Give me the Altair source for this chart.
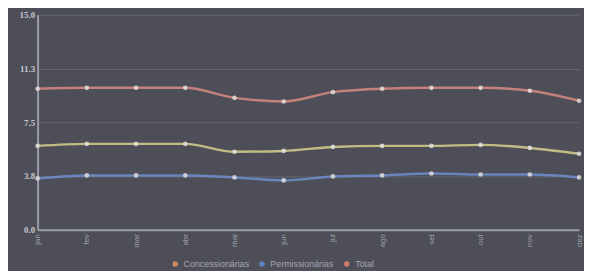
import altair as alt
import pandas as pd

meses = ["jan", "fev", "mar", "abr", "mai", "jun", "jul", "ago", "set", "out", "nov", "dez"]
concessionarias = [5.85, 5.99, 5.99, 5.99, 5.44, 5.50, 5.78, 5.85, 5.85, 5.92, 5.71, 5.30]
permissionarias = [3.58, 3.79, 3.79, 3.79, 3.65, 3.44, 3.72, 3.79, 3.92, 3.85, 3.85, 3.65]
total = [9.84, 9.90, 9.90, 9.90, 9.20, 8.95, 9.60, 9.84, 9.90, 9.90, 9.70, 9.00]

series = {"Concessionárias": concessionarias, "Permissionárias": permissionarias, "Total": total}
rows = []
for name, vals in series.items():
    for m, v in zip(meses, vals):
        rows.append({"mes": m, "serie": name, "valor": v})
df = pd.DataFrame(rows)

names = list(series.keys())
colors = ["#d6cf8c", "#6f8fcc", "#d98a80"]
legend_colors = ["#d08a60", "#5a86c0", "#d07a68"]

x = alt.X("mes:N", sort=meses, title=None,
          scale=alt.Scale(type="point", padding=0),
          axis=alt.Axis(labelAngle=-90, labelColor="#9fa0aa", labelFontSize=8,
                        domainColor="#9a9ca8", domainWidth=2, ticks=False,
                        labelPadding=4, grid=False))
y = alt.Y("valor:Q", title=None,
          scale=alt.Scale(domain=[0, 15], nice=False),
          axis=alt.Axis(values=[0, 3.75, 7.5, 11.25, 15], format=".1f",
                        labelColor="#c8c8d2", labelFontSize=9, labelFontWeight="bold",
                        labelFont="Liberation Serif",
                        domainColor="#9a9ca8", domainWidth=2, ticks=False,
                        gridColor="#656775", gridWidth=1, labelPadding=3))

lines = alt.Chart(df).mark_line(interpolate="monotone", strokeWidth=2.5, opacity=0.85).encode(
    x=x, y=y,
    stroke=alt.Stroke("serie:N", sort=names, scale=alt.Scale(domain=names, range=colors), legend=None))
points = alt.Chart(df).mark_circle(size=22, color="#e6e2e2", opacity=0.8).encode(
    x=x, y=y, detail="serie:N")
legend_layer = alt.Chart(df).mark_circle(size=22, opacity=0).encode(
    x=x, y=y,
    fill=alt.Fill("serie:N", sort=names, scale=alt.Scale(domain=names, range=legend_colors),
                  legend=alt.Legend(orient="none", legendX=135, legendY=248, direction="horizontal",
                                    title=None, symbolType="circle", symbolSize=30,
                                    labelColor="#a6a7b0", labelFontSize=9, columnPadding=8,
                                    symbolOpacity=1)))

chart = alt.layer(lines, points, legend_layer).resolve_scale(stroke="independent", fill="independent").properties(
    width=549, height=218,
    autosize="none",
    padding={"left": 30, "top": 5, "right": 5, "bottom": 40},
    background="#4d4e57",
).configure_view(stroke=None).configure_axis(labelFont="Liberation Sans")

chart.save("out.html", embed_options={"renderer": "svg", "actions": False})
